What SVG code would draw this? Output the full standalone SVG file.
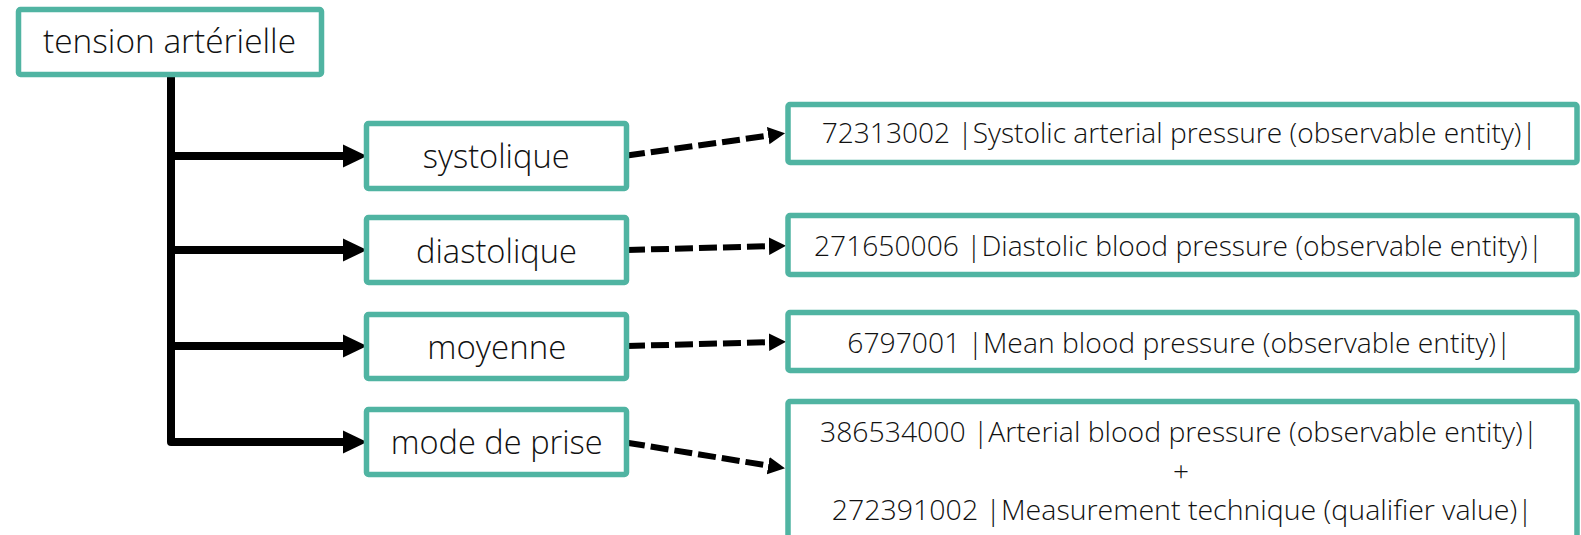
<svg xmlns="http://www.w3.org/2000/svg" width="1581" height="535" viewBox="0 0 1581 535">
<style>
.box{fill:#ffffff;stroke:#50b4a2;stroke-width:5.5}
.lbl{font-family:"Open Sans","Liberation Sans",sans-serif;font-weight:350;font-size:33px;fill:#111111}
.code{font-family:"Open Sans","Liberation Sans",sans-serif;font-weight:300;font-size:28px;fill:#111111}
.solid{fill:none;stroke:#000000;stroke-width:8}
.dash{fill:none;stroke:#000000;stroke-width:6;stroke-dasharray:18 6}
</style>
<defs>
<marker id="ah" markerUnits="userSpaceOnUse" markerWidth="25" markerHeight="24" viewBox="0 -12 25 24" refX="0" refY="0" orient="auto">
<path d="M0,-11.5 L24,0 L0,11.5 z" fill="#000000"/>
</marker>
<marker id="ahd" markerUnits="userSpaceOnUse" markerWidth="18" markerHeight="18" viewBox="0 -9 18 18" refX="0" refY="0" orient="auto">
<path d="M0,-8.7 L17,0 L0,8.7 z" fill="#000000"/>
</marker>
</defs>
<g id="connectors">
<path class="solid" d="M171,74 V442 H343" stroke-linejoin="round" marker-end="url(#ah)"/>
<path class="solid" d="M171,156 H343" marker-end="url(#ah)"/>
<path class="solid" d="M171,250 H343" marker-end="url(#ah)"/>
<path class="solid" d="M171,346 H343" marker-end="url(#ah)"/>
<path class="dash" d="M627,155.5 L768.2,135.7" marker-end="url(#ahd)"/>
<path class="dash" d="M627,250 L769,246.2" marker-end="url(#ahd)"/>
<path class="dash" d="M627,346 L769,342.2" marker-end="url(#ahd)"/>
<path class="dash" d="M627,442.7 L768.2,465.6" marker-end="url(#ahd)"/>
</g>
<g id="node-tension">
<rect class="box" x="18.5" y="9.5" width="303" height="65" rx="2"/>
<text class="lbl" x="43" y="53.3" textLength="253" lengthAdjust="spacingAndGlyphs">tension artérielle</text>
</g>
<g id="node-systolique">
<rect class="box" x="366.5" y="123.5" width="260" height="65" rx="2"/>
<text class="lbl" x="422.7" y="168.3" textLength="147" lengthAdjust="spacingAndGlyphs">systolique</text>
</g>
<g id="node-diastolique">
<rect class="box" x="366.5" y="217.5" width="260" height="65" rx="2"/>
<text class="lbl" x="416" y="262.7" textLength="161" lengthAdjust="spacingAndGlyphs">diastolique</text>
</g>
<g id="node-moyenne">
<rect class="box" x="366.5" y="314.5" width="260" height="64" rx="2"/>
<text class="lbl" x="427.3" y="359" textLength="139" lengthAdjust="spacingAndGlyphs">moyenne</text>
</g>
<g id="node-mode">
<rect class="box" x="366.5" y="409.5" width="260" height="65" rx="2"/>
<text class="lbl" x="390.7" y="454" textLength="212" lengthAdjust="spacingAndGlyphs">mode de prise</text>
</g>
<g id="node-72313002">
<rect class="box" x="788" y="104.5" width="789" height="58" rx="2"/>
<text class="code" x="821.7" y="143.3" textLength="715" lengthAdjust="spacingAndGlyphs">72313002 |Systolic arterial pressure (observable entity)|</text>
</g>
<g id="node-271650006">
<rect class="box" x="788" y="215.5" width="789" height="59" rx="2"/>
<text class="code" x="814" y="255.7" textLength="729" lengthAdjust="spacingAndGlyphs">271650006 |Diastolic blood pressure (observable entity)|</text>
</g>
<g id="node-6797001">
<rect class="box" x="788" y="312.5" width="789" height="58" rx="2"/>
<text class="code" x="847.3" y="352.7" textLength="664" lengthAdjust="spacingAndGlyphs">6797001 |Mean blood pressure (observable entity)|</text>
</g>
<g id="node-386534000">
<rect class="box" x="788" y="401.5" width="789" height="145" rx="2"/>
<text class="code" x="820" y="442.3" textLength="718" lengthAdjust="spacingAndGlyphs">386534000 |Arterial blood pressure (observable entity)|</text>
<text class="code" x="1181" y="481" text-anchor="middle">+</text>
<text class="code" x="831.7" y="520" textLength="701" lengthAdjust="spacingAndGlyphs">272391002 |Measurement technique (qualifier value)|</text>
</g>
</svg>
